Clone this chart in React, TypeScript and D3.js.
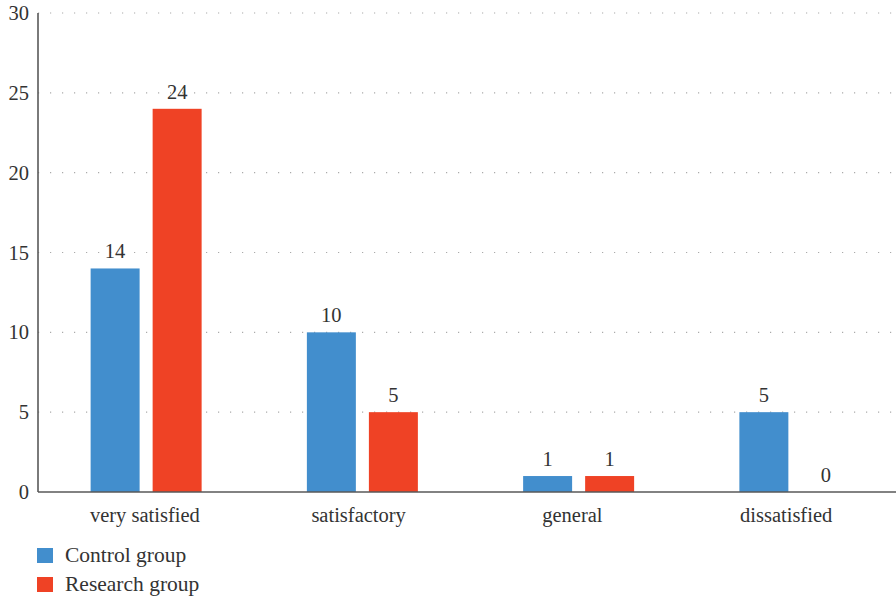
import React from "react";
import * as d3 from "d3";

// Satisfaction survey results by group
const categories = ["very satisfied", "satisfactory", "general", "dissatisfied"];
const series = ["Control group", "Research group"];
const controlValues = [14, 10, 1, 5];
const researchValues = [24, 5, 1, 0];
const yTicks = [0, 5, 10, 15, 20, 25, 30];

const colors: Record<string, string> = {
  "Control group": "#428ecd",
  "Research group": "#ef4225",
};

const W = 896;
const H = 599;
const plotLeft = 38;
const plotRight = 896;
const plotTop = 13;
const plotBottom = 492;
const groupWidth = 111;
const font = "Liberation Serif, Times New Roman, serif";
const textColor = "#333";

export default function App() {
  const y = d3.scaleLinear().domain([0, 30]).range([plotBottom, plotTop]);
  const x0 = d3.scaleBand<string>().domain(categories).range([plotLeft, 903]).padding(0);
  const labelX = d3.scaleBand<string>().domain(categories).range([plotLeft, 893]).padding(0);
  const x1 = d3
    .scaleBand<string>()
    .domain(series)
    .range([0, groupWidth])
    .paddingInner(0.21)
    .paddingOuter(0);

  const valuesBySeries: Record<string, number[]> = {
    "Control group": controlValues,
    "Research group": researchValues,
  };

  const txt = { fontFamily: font, fontSize: 20.5, fill: textColor } as React.CSSProperties;
  const legendTxt = { ...txt, fontSize: 21.5 } as React.CSSProperties;

  return (
    <svg
      width={W}
      height={H}
      style={{ display: "block", position: "absolute", left: 0, top: 0 }}
    >
      <rect width={W} height={H} fill="#fff" />
      {/* dotted gridlines */}
      {yTicks
        .filter((t) => t > 0)
        .map((t) => (
          <line
            key={`g${t}`}
            x1={plotLeft}
            x2={plotRight}
            y1={y(t)}
            y2={y(t)}
            stroke="#aaa"
            strokeWidth={1.2}
            strokeDasharray="1.2 10.8"
          />
        ))}
      {/* y tick labels */}
      {yTicks.map((t) => (
        <text
          key={`t${t}`}
          x={29}
          y={y(t)}
          textAnchor="end"
          dominantBaseline="central"
          style={txt}
        >
          {t}
        </text>
      ))}
      {/* bars and value labels */}
      {categories.map((c, i) => {
        const gx = x0(c)! + x0.bandwidth() / 2 - groupWidth / 2;
        return (
          <g key={c}>
            {series.map((s) => {
              const v = valuesBySeries[s][i];
              const bx = gx + x1(s)!;
              return (
                <g key={s}>
                  <rect
                    x={bx}
                    y={y(v)}
                    width={x1.bandwidth()}
                    height={plotBottom - y(v)}
                    fill={colors[s]}
                  />
                  <text
                    x={bx + x1.bandwidth() / 2}
                    y={y(v) - 10}
                    textAnchor="middle"
                    style={txt}
                  >
                    {v}
                  </text>
                </g>
              );
            })}
            <text
              x={labelX(c)! + labelX.bandwidth() / 2}
              y={plotBottom + 30}
              textAnchor="middle"
              style={txt}
            >
              {c}
            </text>
          </g>
        );
      })}
      {/* axes */}
      <line x1={plotLeft} x2={plotLeft} y1={plotTop} y2={plotBottom} stroke="#595959" strokeWidth={1.6} />
      <line x1={plotLeft} x2={plotRight} y1={plotBottom} y2={plotBottom} stroke="#595959" strokeWidth={1.6} />
      {/* legend */}
      {series.map((s, i) => (
        <g key={s}>
          <rect x={37} y={548 + i * 29} width={16} height={15} fill={colors[s]} />
          <text x={65} y={562 + i * 29} style={legendTxt}>
            {s}
          </text>
        </g>
      ))}
    </svg>
  );
}
